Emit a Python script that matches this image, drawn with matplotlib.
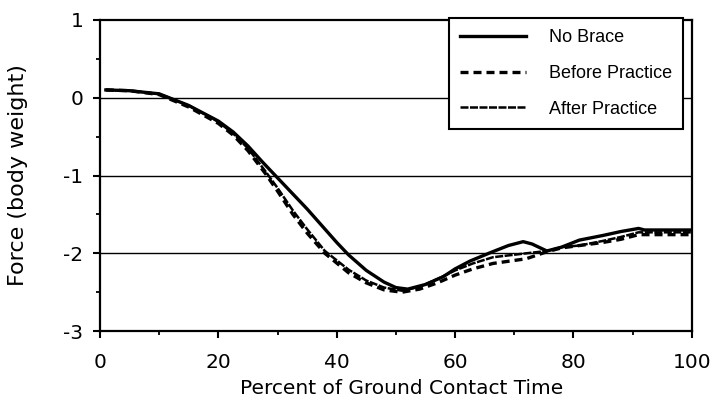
import matplotlib
matplotlib.use("Agg")
import matplotlib.pyplot as plt
from matplotlib.ticker import MultipleLocator

plt.rcParams['axes.unicode_minus'] = False
plt.rcParams['font.family'] = 'DejaVu Sans'

# data (percent of contact time, force in body weight)
x_nb = [1, 5, 10, 15, 20, 22.5, 25, 27.5, 30, 35, 40, 42, 45, 48, 50, 52, 55, 58, 60,
        62.5, 66, 69, 71.5, 73, 75.5, 78, 81, 85, 88, 91, 92, 100]
no_brace = [0.10, 0.09, 0.05, -0.10, -0.30, -0.44, -0.62, -0.83, -1.03, -1.43, -1.86,
            -2.02, -2.22, -2.37, -2.44, -2.46, -2.40, -2.30, -2.20, -2.10, -1.99, -1.90,
            -1.85, -1.88, -1.97, -1.92, -1.83, -1.77, -1.72, -1.68, -1.70, -1.70]

x_pr = [1, 5, 10, 15, 20, 22.5, 25, 28, 30, 32.6, 35, 38, 42, 45, 48, 51, 54, 57, 60,
        63, 66.4, 72, 75.5, 78, 81, 85, 88, 91, 100]
before_practice = [0.10, 0.09, 0.04, -0.12, -0.33, -0.48, -0.68, -0.98, -1.20, -1.50,
                   -1.74, -2.00, -2.25, -2.38, -2.47, -2.50, -2.46, -2.38, -2.28, -2.20,
                   -2.13, -2.07, -1.98, -1.93, -1.90, -1.86, -1.82, -1.76, -1.76]
after_practice = [0.10, 0.09, 0.05, -0.10, -0.31, -0.46, -0.65, -0.95, -1.16, -1.45,
                  -1.69, -1.97, -2.21, -2.35, -2.44, -2.48, -2.43, -2.33, -2.22, -2.13,
                  -2.05, -2.00, -1.97, -1.92, -1.90, -1.84, -1.79, -1.73, -1.73]

fig, ax = plt.subplots(figsize=(7.14, 3.98), dpi=100)
fig.subplots_adjust(left=0.14, right=0.969, top=0.95, bottom=0.168)

for y in [0, -1, -2]:
    ax.axhline(y, color='black', linewidth=1.0, zorder=1)

ax.plot(x_nb, no_brace, color='black', linewidth=2.4, label='No Brace', zorder=3)
ax.plot(x_pr, before_practice, color='black', linewidth=2.4, linestyle=(0, (2.4, 1.5)),
        label='Before Practice', zorder=3)
ax.plot(x_pr, after_practice, color='black', linewidth=1.8, linestyle=(0, (3.2, 0.6)),
        label='After Practice', zorder=3)

ax.set_xlim(0, 100)
ax.set_ylim(-3, 1)
ax.xaxis.set_major_locator(MultipleLocator(20))
ax.xaxis.set_minor_locator(MultipleLocator(10))
ax.yaxis.set_major_locator(MultipleLocator(1))
ax.yaxis.set_minor_locator(MultipleLocator(0.5))
ax.tick_params(which='major', direction='out', length=5, width=1.5, labelsize=14.5)
ax.tick_params(axis='x', which='major', pad=11)
ax.tick_params(axis='y', which='major', pad=7)
ax.tick_params(which='minor', direction='out', length=3, width=1.3)
for s in ax.spines.values():
    s.set_linewidth(1.6)

ax.set_xlabel('Percent of Ground Contact Time', fontsize=14.5)
ax.set_ylabel('Force (body weight)', fontsize=16)
ax.xaxis.set_label_coords(0.51, -0.155)
ax.yaxis.set_label_coords(-0.122, 0.5)

leg = ax.legend(loc='upper right', bbox_to_anchor=(0.985, 1.006), borderaxespad=0,
                fancybox=False, framealpha=1, edgecolor='black', handlelength=3.7,
                handletextpad=1.25, labelspacing=1.05, borderpad=0.6,
                prop={'family': 'Liberation Sans', 'size': 13})
leg.get_frame().set_linewidth(1.5)

fig.savefig('out.png', dpi=100)
